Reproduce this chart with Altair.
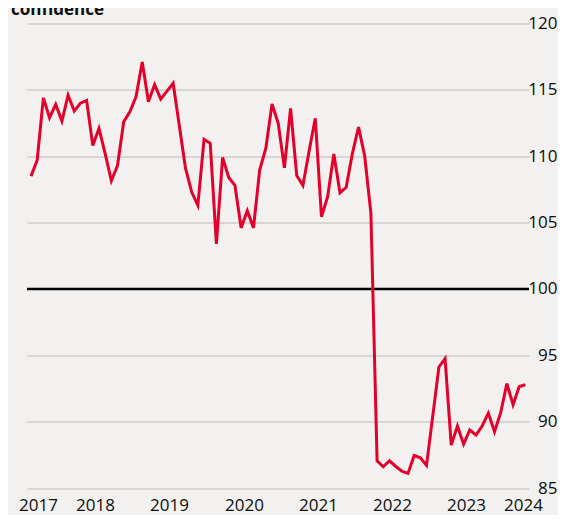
import altair as alt
import pandas as pd

# Monthly index values, Aug 2017 - Apr 2024
months = pd.date_range("2017-08-01", periods=81, freq="MS")
values = [108.5, 109.7, 114.4, 112.9, 113.9, 112.65, 114.6, 113.4, 114.0, 114.2,
          110.8, 112.1, 110.2, 108.15, 109.3, 112.6, 113.35, 114.5, 117.1, 114.1,
          115.4, 114.3, 114.9, 115.5, 112.3, 109.1, 107.3, 106.3, 111.27, 110.97,
          103.4, 109.9, 108.4, 107.8, 104.6, 105.9, 104.6, 108.96, 110.6, 113.93,
          112.48, 109.13, 113.6, 108.55, 107.8, 110.4, 112.86, 105.44, 106.95, 110.17,
          107.25, 107.66, 110.2, 112.2, 110.0, 105.7, 87.05, 86.6, 87.05, 86.64,
          86.27, 86.1, 87.45, 87.27, 86.7, 90.4, 94.12, 94.75, 88.23, 89.67,
          88.3, 89.37, 88.99, 89.67, 90.64, 89.24, 90.68, 92.86, 91.27, 92.65,
          92.78]
year_label_pos = [2017.719, 2018.488, 2019.486, 2020.497, 2021.495, 2022.493, 2023.491, 2024.259]
y_ticks = [85, 90, 95, 105, 110, 115, 120]
baseline_value = [100]
title_text = "confidence"

df = pd.DataFrame({
    "t": [m.year + (m.month - 0.5) / 12 for m in months],
    "value": values,
})

FONT = "Open Sans"

xscale = alt.Scale(domain=[2017.571, 2024.340], nice=False, zero=False)
yscale = alt.Scale(domain=[85, 120], nice=False, zero=False)

base = alt.Chart(df)

grid = base.mark_line(opacity=0).encode(
    x=alt.X("t:Q", scale=xscale, title=None,
            axis=alt.Axis(values=year_label_pos, labelExpr="floor(datum.value)",
                          grid=False, domain=False, ticks=False, tickSize=0,
                          labelPadding=9, labelFontSize=17, labelFont=FONT,
                          labelColor="#0d0d0d", labelFlush=False, labelOverlap=False,
                          labelBound=False)),
    y=alt.Y("value:Q", scale=yscale, title=None,
            axis=alt.Axis(orient="right", values=y_ticks + baseline_value, grid=True,
                          gridColor="#cfcdcb", gridWidth=1.4, domain=False, ticks=False,
                          tickSize=0, labelPadding=28, labelAlign="right",
                          labelFontSize=17, labelFont=FONT, labelColor="#0d0d0d")),
)

rule = alt.Chart(pd.DataFrame({"v": baseline_value})).mark_rule(
    color="#000000", strokeWidth=2.6
).encode(y=alt.Y("v:Q", scale=yscale))

line = base.mark_line(color="#e3002b", strokeWidth=3, strokeJoin="miter").encode(
    x=alt.X("t:Q", scale=xscale),
    y=alt.Y("value:Q", scale=yscale),
)

title = alt.Chart(pd.DataFrame({"label": [title_text]})).mark_text(
    align="left", baseline="alphabetic", fontSize=17, fontWeight="bold",
    font=FONT, color="#0d0d0d"
).encode(x=alt.value(-16), y=alt.value(-8.5), text="label:N")

chart = alt.layer(grid, rule, line, title).properties(
    width=502, height=464.5,
    autosize=alt.AutoSizeParams(type="none"),
    padding={"left": 19, "top": 15.5, "right": 29, "bottom": 27},
    background="#f2f1ef",
).configure_view(stroke=None)

chart.save("out.html", embed_options={"renderer": "svg", "actions": False})
